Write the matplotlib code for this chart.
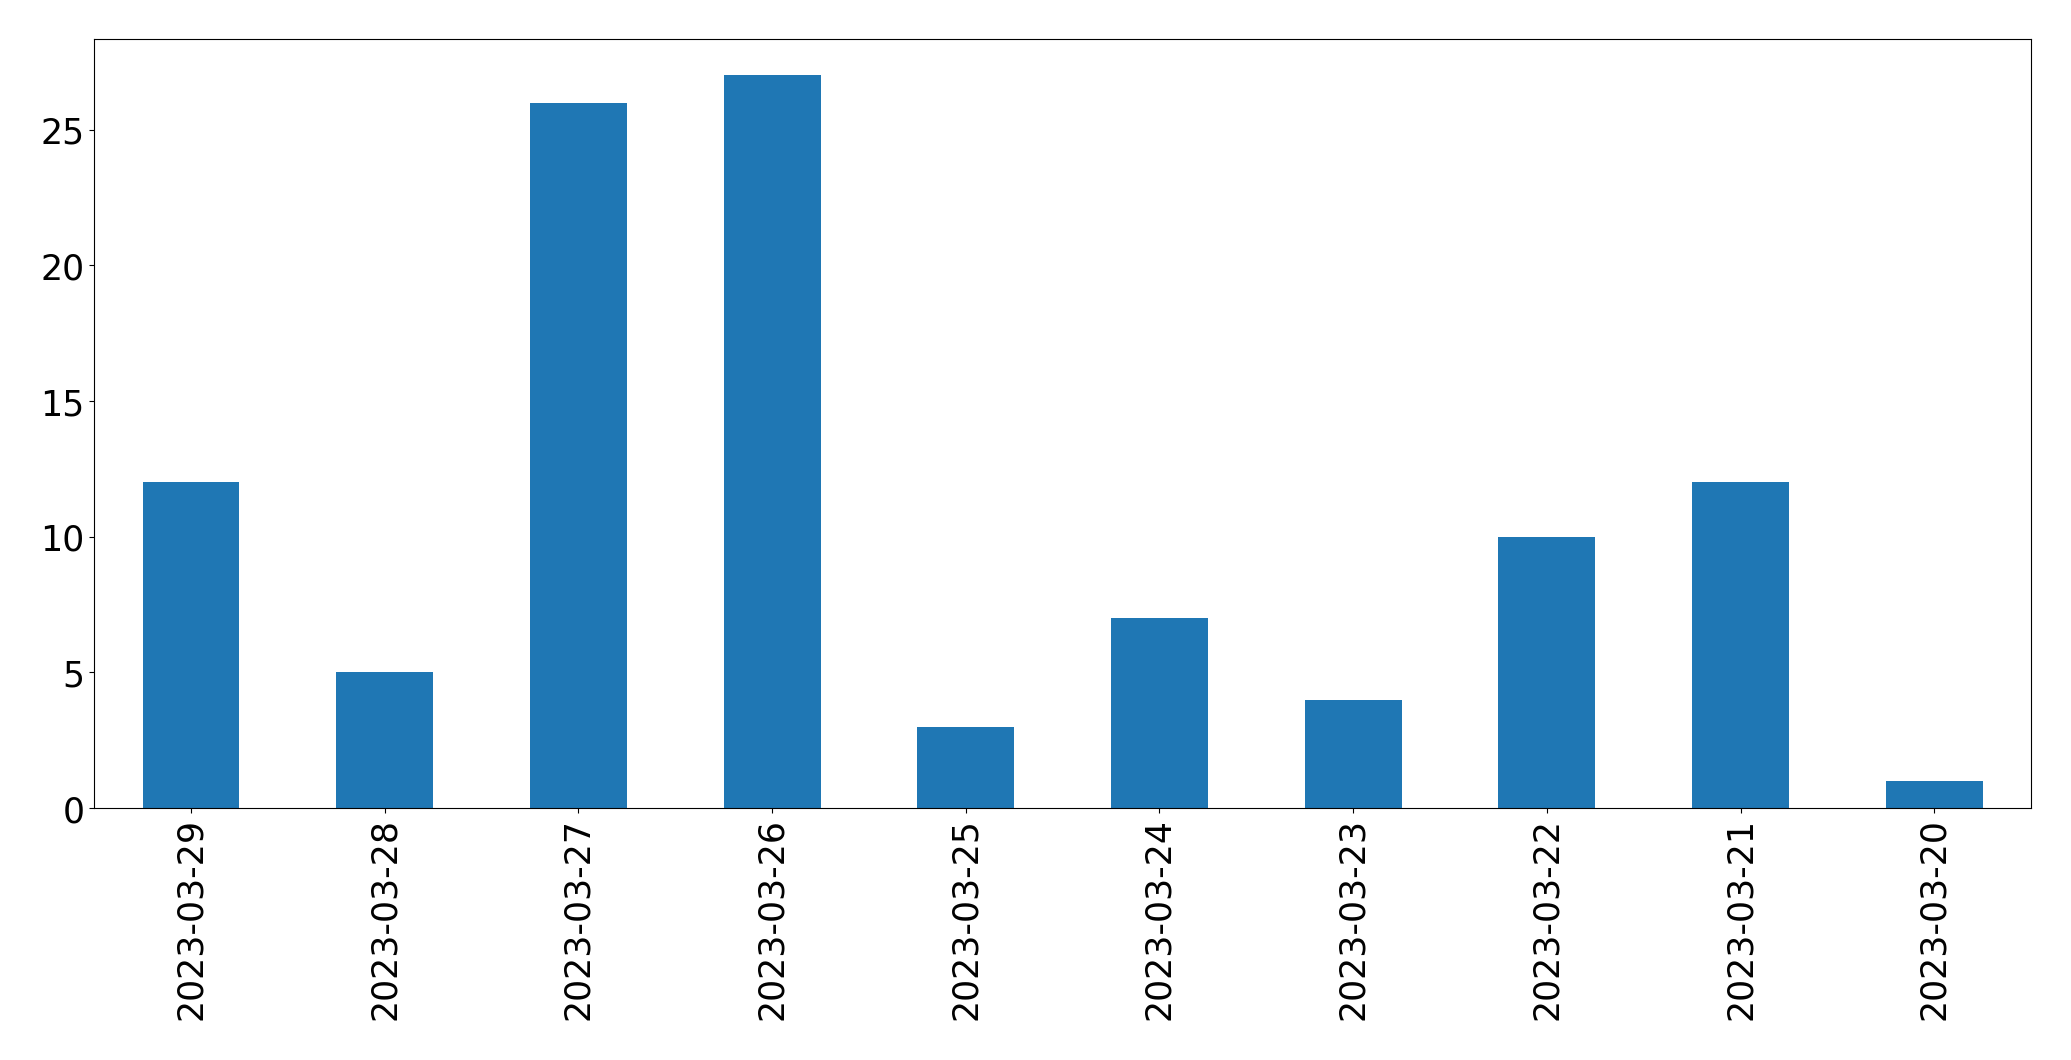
import matplotlib
matplotlib.use("Agg")
import matplotlib.pyplot as plt
import pandas as pd

dates = ["2023-03-29", "2023-03-28", "2023-03-27", "2023-03-26", "2023-03-25",
         "2023-03-24", "2023-03-23", "2023-03-22", "2023-03-21", "2023-03-20"]
counts = [12, 5, 26, 27, 3, 7, 4, 10, 12, 1]

plt.rcParams['font.size'] = 25

series = pd.Series(counts, index=dates)

fig, ax = plt.subplots(figsize=(20.71, 10.605), dpi=100)
series.plot(kind='bar', ax=ax, color='#1f77b4')
ax.set_ylim(0, max(counts) * 1.05)
ax.tick_params(axis='x', labelrotation=90)

plt.subplots_adjust(left=0.0455, right=0.9807, top=0.963, bottom=0.2375)
plt.savefig('out.png', dpi=100)
